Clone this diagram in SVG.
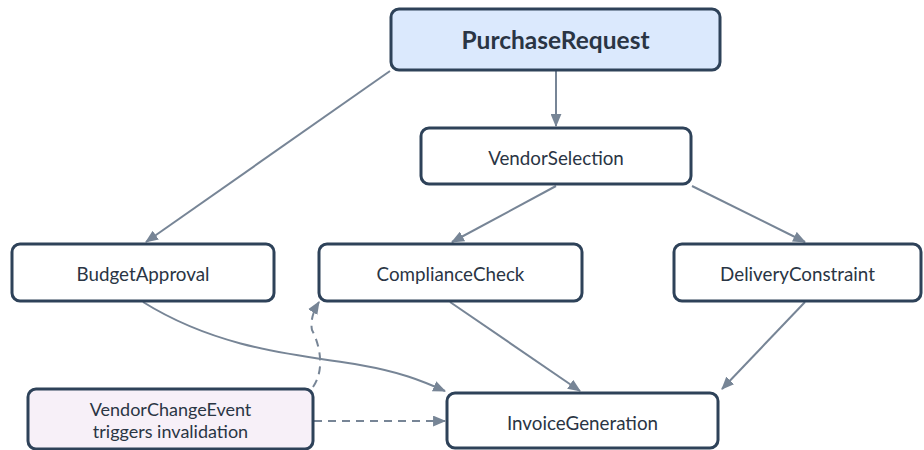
<svg xmlns="http://www.w3.org/2000/svg" width="924" height="450" viewBox="0 0 924 450">
<style>
.n rect{fill:#ffffff;stroke:#2e4259;stroke-width:3}
.t{font-family:Lato,"Noto Sans",sans-serif;font-size:18.8px;fill:#2a3544;text-anchor:middle;dominant-baseline:central}
.e{fill:none;stroke:#778596;stroke-width:2}
.d{stroke-dasharray:8 6}
</style>
<defs>
<marker id="a" viewBox="0 0 12 10" refX="11" refY="5" markerWidth="13" markerHeight="11" markerUnits="userSpaceOnUse" orient="auto">
<path d="M0,0 L12,5 L0,10 Z" fill="#778596"/>
</marker>
</defs>
<rect width="924" height="450" fill="#ffffff"/>
<g id="edges">
<path class="e" d="M556,71 L556,126" marker-end="url(#a)"/>
<path class="e" d="M390,71 L146,242" marker-end="url(#a)"/>
<path class="e" d="M556,186 L452,242" marker-end="url(#a)"/>
<path class="e" d="M692,186 L805,242" marker-end="url(#a)"/>
<path class="e" d="M143,302 C220,350 300,355 360,365 C400,372 420,380 445,391" marker-end="url(#a)"/>
<path class="e" d="M450,302 L580,391" marker-end="url(#a)"/>
<path class="e" d="M805,302 L722,389" marker-end="url(#a)"/>
<path class="e d" d="M313,387 C325,370 320,345 312,330 C310,320 314,310 319,302" marker-end="url(#a)"/>
<path class="e d" d="M314,421 L445,421" marker-end="url(#a)"/>
</g>
<g id="PurchaseRequest" class="n"><rect x="391" y="9" width="329" height="61" rx="8" style="fill:#dbe9fd"/><text class="t" x="555.5" y="39.5" style="font-size:24.5px;font-weight:bold">PurchaseRequest</text></g>
<g id="VendorSelection" class="n"><rect x="421" y="128" width="270" height="56" rx="8"/><text class="t" x="556" y="157">VendorSelection</text></g>
<g id="BudgetApproval" class="n"><rect x="12" y="244" width="262" height="57" rx="8"/><text class="t" x="143" y="273">BudgetApproval</text></g>
<g id="ComplianceCheck" class="n"><rect x="319" y="244" width="263" height="57" rx="8"/><text class="t" x="450.5" y="273">ComplianceCheck</text></g>
<g id="DeliveryConstraint" class="n"><rect x="674" y="244" width="247" height="57" rx="8"/><text class="t" x="797.5" y="273">DeliveryConstraint</text></g>
<g id="InvoiceGeneration" class="n"><rect x="447" y="393" width="271" height="55" rx="8"/><text class="t" x="582.5" y="422">InvoiceGeneration</text></g>
<g id="VendorChangeEvent" class="n"><rect x="28" y="389" width="285" height="60" rx="8" style="fill:#f7f0f8"/><text class="t" x="170.5" y="409" style="font-size:18px">VendorChangeEvent</text><text class="t" x="170.5" y="431" style="font-size:18px">triggers invalidation</text></g>
</svg>
